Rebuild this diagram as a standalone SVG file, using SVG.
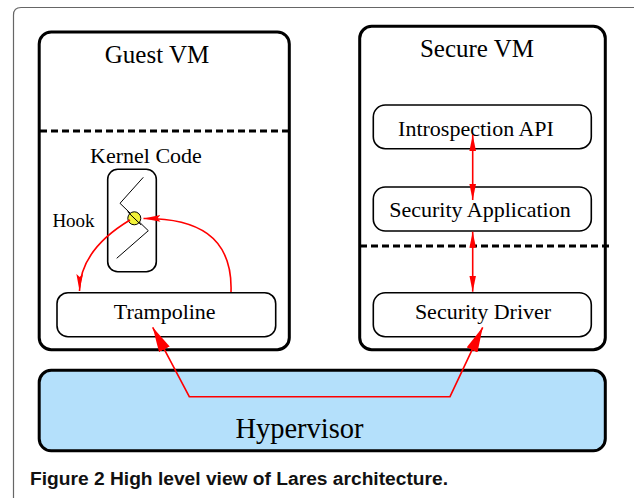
<svg xmlns="http://www.w3.org/2000/svg" width="634" height="498" viewBox="0 0 634 498">
<style>
.vm{fill:#fff;stroke:#000;stroke-width:3}
.box{fill:#fff;stroke:#000;stroke-width:1.6}
.dash{stroke:#000;stroke-width:3;stroke-dasharray:7 4;fill:none}
.t{font-family:"Liberation Serif","Times New Roman",serif;fill:#000;text-anchor:middle}
.red{fill:none;stroke:#ff0000;stroke-width:1.6}
.cap{font-family:"Liberation Sans",Arial,sans-serif;font-weight:bold;font-size:19.2px;fill:#111}
</style>
<defs>
<marker id="big" markerUnits="userSpaceOnUse" markerWidth="26" markerHeight="13" refX="25" refY="6" orient="auto-start-reverse"><path d="M0,0 L25,6 L0,12 z" fill="#ff0000"/></marker>
<marker id="sm" markerUnits="userSpaceOnUse" markerWidth="17" markerHeight="7" refX="16" refY="3.3" orient="auto-start-reverse"><path d="M0,0 L16,3.3 L0,6.6 z" fill="#ff0000"/></marker>
<marker id="hk" markerUnits="userSpaceOnUse" markerWidth="18" markerHeight="7" refX="17" refY="3.3" orient="auto"><path d="M0,0 L17,3.3 L0,6.6 L3,3.3 z" fill="#ff0000"/></marker>
</defs>
<rect width="634" height="498" fill="#fff"/>
<path d="M13.5,498 V15 Q13.5,7.5 21,7.5 H634" fill="none" stroke="#666" stroke-width="1.2"/>

<g id="guest-vm">
<rect class="vm" x="39.2" y="32" width="250.1" height="317.7" rx="12"/>
<text class="t" x="157" y="63" font-size="25">Guest VM</text>
<line class="dash" x1="40" y1="131" x2="289" y2="131"/>
</g>

<g id="kernel-code">
<text class="t" x="146" y="162.7" font-size="22">Kernel Code</text>
<rect class="box" x="107.7" y="169.3" width="48.6" height="102.4" rx="10"/>
<polyline points="143.3,177.3 120,203.3 148.3,230.7 116.7,258.3" fill="none" stroke="#000" stroke-width="1"/>
</g>

<g id="hook">
<text class="t" x="73.5" y="227.3" font-size="19">Hook</text>
<circle cx="134.3" cy="218.3" r="6.5" fill="#f2f23a" stroke="#000" stroke-width="1"/>
<line x1="127.5" y1="211.7" x2="141.1" y2="224.9" stroke="#000" stroke-width="1"/>
</g>

<g id="trampoline">
<rect class="box" x="57" y="292.7" width="218.7" height="44" rx="11"/>
<text class="t" x="164.7" y="319" font-size="22">Trampoline</text>
</g>

<g id="secure-vm">
<rect class="vm" x="359.7" y="26.3" width="245.6" height="323.4" rx="12"/>
<text class="t" x="477" y="57.3" font-size="25">Secure VM</text>
<line class="dash" x1="360" y1="246" x2="609" y2="246"/>
</g>

<g id="introspection-api">
<rect class="box" x="373.3" y="105" width="218" height="43.7" rx="12"/>
<text class="t" x="476" y="136" font-size="22">Introspection API</text>
</g>

<g id="security-application">
<rect class="box" x="373.3" y="187" width="218" height="44" rx="12"/>
<text class="t" x="480" y="217.3" font-size="22">Security Application</text>
</g>

<g id="security-driver">
<rect class="box" x="373.3" y="292.7" width="218" height="44" rx="12"/>
<text class="t" x="483" y="319" font-size="22">Security Driver</text>
</g>

<g id="hypervisor">
<rect x="39.2" y="370.3" width="566.1" height="80.5" rx="12" fill="#b4e0fb" stroke="#000" stroke-width="3"/>
<text class="t" x="299.5" y="438.3" font-size="28.5">Hypervisor</text>
</g>

<g id="connectors">
<path class="red" d="M130,220 Q80,250 79.5,291" marker-end="url(#hk)"/>
<path class="red" d="M231,292 C233,235 195,218 143.5,218.5" marker-end="url(#hk)"/>
<line class="red" x1="472.7" y1="135" x2="472.7" y2="200" marker-start="url(#sm)" marker-end="url(#sm)"/>
<line class="red" x1="472.7" y1="231.7" x2="472.7" y2="291.7" marker-start="url(#sm)" marker-end="url(#sm)"/>
<path class="red" d="M152.7,327.3 L189.3,396.7 L450,396.7 L482.7,327.3" stroke-width="2" marker-start="url(#big)" marker-end="url(#big)"/>
</g>

<text class="cap" x="30" y="485">Figure 2 High level view of Lares architecture.</text>
</svg>
